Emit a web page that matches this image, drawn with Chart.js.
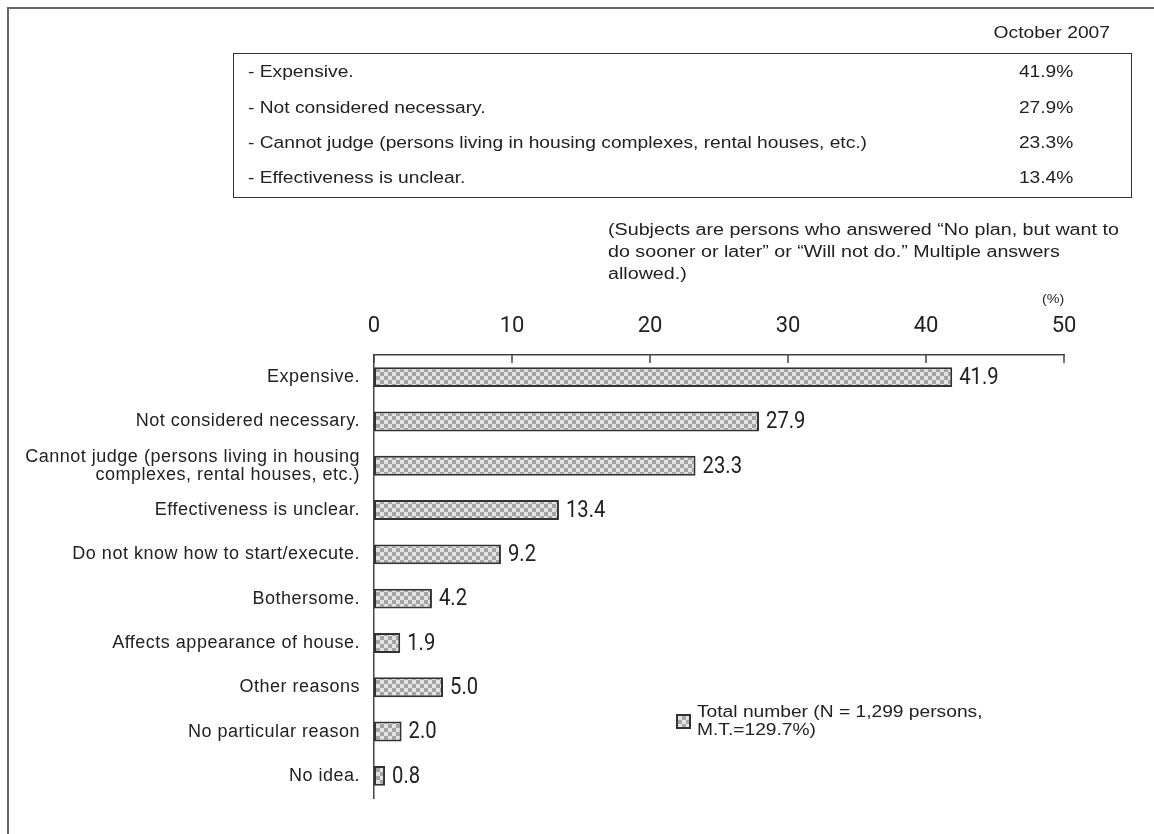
<!DOCTYPE html>
<html><head><meta charset="utf-8">
<script src="https://cdn.jsdelivr.net/npm/chart.js@4/dist/chart.umd.min.js"></script>
<style>
html,body{margin:0;padding:0;background:#fff;}
#wrap{position:relative;width:1154px;height:834px;overflow:hidden;font-family:"Liberation Sans",Arial,sans-serif;color:#222;}
#c{position:absolute;left:0;top:0;}
.t{position:absolute;white-space:nowrap;font-size:16px;line-height:20px;}
.sx{transform:scaleX(1.2);transform-origin:left center;}
.sxn{transform:scaleX(1.23);transform-origin:left center;}
.sxr{transform:scaleX(1.2);transform-origin:right center;}
#frame{position:absolute;left:7px;top:7px;width:1300px;height:1000px;border-left:2px solid #666;border-top:2px solid #666;}
#tbl{position:absolute;left:233px;top:53px;width:897px;height:143px;border:1.5px solid #333;}
#lgbox{position:absolute;left:676px;top:714px;width:11px;height:11px;border:2px solid #333;
 background-color:#e4e4e4;background-image:repeating-conic-gradient(#a8a8a8 0 25%, #e4e4e4 0 50%);background-size:8px 8px;}
</style></head>
<body><div id="wrap">
<div id="frame"></div>
<canvas id="c" width="1154" height="834"></canvas>
<div id="tbl"></div>
<div class="t sxr" style="right:44px;top:23px;">October 2007</div>
<div class="t" style="left:1042px;top:291px;font-size:13px;line-height:16px;transform:scaleX(1.1);transform-origin:left center;">(%)</div>
<div id="lgbox"></div>
</div>
<script>
const categories = [
  "Expensive.",
  "Not considered necessary.",
  ["Cannot judge (persons living in housing", "complexes, rental houses, etc.)"],
  "Effectiveness is unclear.",
  "Do not know how to start/execute.",
  "Bothersome.",
  "Affects appearance of house.",
  "Other reasons",
  "No particular reason",
  "No idea."
];
const values = [41.9, 27.9, 23.3, 13.4, 9.2, 4.2, 1.9, 5.0, 2.0, 0.8];
const seriesName = "Total number (N = 1,299 persons, M.T.=129.7%)";
const legendLines = ["Total number (N = 1,299 persons,", "M.T.=129.7%)"];
const tableItems = [
  "- Expensive.",
  "- Not considered necessary.",
  "- Cannot judge (persons living in housing complexes, rental houses, etc.)",
  "- Effectiveness is unclear."
];
const tableValues = ["41.9%", "27.9%", "23.3%", "13.4%"];
const noteLines = [
  "(Subjects are persons who answered \u201cNo plan, but want to",
  "do sooner or later\u201d or \u201cWill not do.\u201d Multiple answers",
  "allowed.)"
];

// build HTML text blocks
const wrap = document.getElementById('wrap');
const rowY = [72, 108, 143, 178];
tableItems.forEach((s, i) => {
  const d = document.createElement('div');
  d.className = 't sx'; d.style.left = '248px'; d.style.top = (rowY[i] - 10) + 'px';
  d.textContent = s; wrap.appendChild(d);
  const v = document.createElement('div');
  v.className = 't sxr'; v.style.right = '81px'; v.style.top = (rowY[i] - 10) + 'px';
  v.textContent = tableValues[i]; wrap.appendChild(v);
});
noteLines.forEach((s, i) => {
  const d = document.createElement('div');
  d.className = 't sxn'; d.style.left = '608px'; d.style.top = (220 + i * 22) + 'px';
  d.textContent = s; wrap.appendChild(d);
});
legendLines.forEach((s, i) => {
  const d = document.createElement('div');
  d.className = 't sx'; d.style.left = '697px'; d.style.top = (703 + i * 18) + 'px';
  d.style.lineHeight = '18px';
  d.textContent = s; wrap.appendChild(d);
});

const canvas = document.getElementById('c');
const ctx0 = canvas.getContext('2d');
function makePattern(ctx) {
  const c = document.createElement('canvas'); c.width = 8; c.height = 8;
  const g = c.getContext('2d');
  g.fillStyle = '#e2e2e2'; g.fillRect(0, 0, 8, 8);
  g.fillStyle = '#a4a4a4'; g.fillRect(0, 0, 4, 4); g.fillRect(4, 4, 4, 4);
  return ctx.createPattern(c, 'repeat');
}
const pattern = makePattern(ctx0);
const NUM_FONT = '"Liberation Sans Narrow", "Roboto", sans-serif';

const tickMarks = {
  id: 'tickMarks',
  afterLayout(chart) {
    const y = chart.scales.y;
    if (y && !y._spaced) {
      const orig = y.drawLabels;
      y.drawLabels = function (area) {
        const c = this.ctx; const prev = c.letterSpacing;
        c.letterSpacing = '0.5px';
        orig.call(this, area);
        c.letterSpacing = prev || '0px';
      };
      y._spaced = true;
    }
  },
  afterDraw(chart) {
    const x = chart.scales.x, ctx = chart.ctx, top = chart.chartArea.top;
    ctx.save(); ctx.strokeStyle = '#444'; ctx.lineWidth = 1.5;
    x.ticks.forEach(t => {
      const px = x.getPixelForValue(t.value);
      ctx.beginPath(); ctx.moveTo(px, top); ctx.lineTo(px, top + 8); ctx.stroke();
    });
    ctx.restore();
  }
};
const valueLabels = {
  id: 'valueLabels',
  afterDatasetsDraw(chart) {
    const ctx = chart.ctx;
    const meta = chart.getDatasetMeta(0);
    ctx.save();
    ctx.font = '23px ' + NUM_FONT; ctx.fillStyle = '#222';
    ctx.textAlign = 'left'; ctx.textBaseline = 'middle';
    meta.data.forEach((bar, i) => {
      const tx = bar.x + 7;
      ctx.save();
      ctx.translate(tx, bar.y + 1);
      ctx.scale(0.88, 1);
      ctx.fillText(values[i].toFixed(1), 0, 0);
      ctx.restore();
    });
    ctx.restore();
  }
};

new Chart(canvas, {
  type: 'bar',
  data: {
    labels: categories,
    datasets: [{
      label: seriesName,
      data: values,
      backgroundColor: pattern,
      borderColor: '#333',
      borderWidth: 2,
      borderSkipped: false,
      categoryPercentage: 1,
      barPercentage: 0.45
    }]
  },
  options: {
    responsive: false, animation: false, indexAxis: 'y',
    layout: { padding: { left: 0, right: 90, top: 0, bottom: 36 } },
    plugins: { legend: { display: false }, tooltip: { enabled: false } },
    scales: {
      x: {
        position: 'top', min: 0, max: 50,
        ticks: { stepSize: 10, font: { family: NUM_FONT, size: 22 }, color: '#222', padding: 7 },
        grid: { display: false },
        border: { display: true, color: '#444', width: 1.5 },
        afterFit(s) { s.height = 355; }
      },
      y: {
        grid: { display: false },
        border: { display: true, color: '#444', width: 1.5 },
        ticks: { font: { family: '"Liberation Sans", Arial, sans-serif', size: 18, lineHeight: 1.02 }, color: '#222', padding: 6, autoSkip: false },
        afterFit(s) { s.width = 374; }
      }
    }
  },
  plugins: [tickMarks, valueLabels]
});
</script>
</body></html>
